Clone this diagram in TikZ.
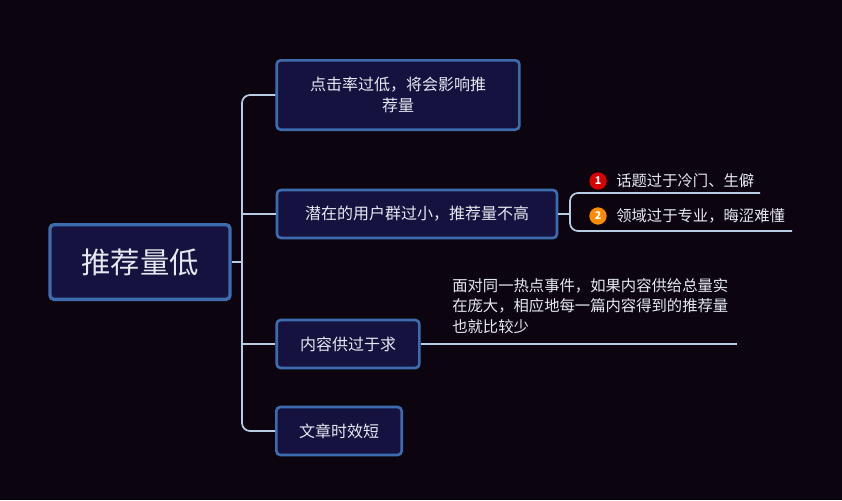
\documentclass[tikz,border=0pt]{standalone}
\usepackage{fontspec}
\setmainfont{Noto Sans CJK SC}
\begin{document}
\begin{tikzpicture}[x=0.75pt,y=-0.75pt,
  box/.style={draw=bordc,line width=2pt,fill=boxc,rounded corners=3pt,text=txtc,font=\fontsize{12}{16}\selectfont,inner sep=0pt},
  ln/.style={draw=linec,line width=1.3pt,rounded corners=6pt},
  txt/.style={text=txtc,font=\fontsize{11.5}{15}\selectfont,anchor=west,inner sep=0pt}]
\definecolor{bgc}{HTML}{0C0510}
\definecolor{boxc}{HTML}{15123F}
\definecolor{bordc}{HTML}{3C6CAE}
\definecolor{txtc}{HTML}{E6E8F0}
\definecolor{linec}{HTML}{B8CCE4}
\fill[bgc] (0,0) rectangle (842,500);
\useasboundingbox (0,0) rectangle (842,500);
\node[box,minimum width=135pt,minimum height=56pt,font=\fontsize{22}{26}\selectfont,line width=2.5pt] (root) at (140,262) {推荐量低};
\node[box,minimum width=182pt,minimum height=52pt,align=center] (c1) at (398,95) {点击率过低，将会影响推\\荐量};
\node[box,minimum width=210pt,minimum height=36pt] (c2) at (417,214) {潜在的用户群过小，推荐量不高};
\node[box,minimum width=107pt,minimum height=36pt] (c3) at (348,344) {内容供过于求};
\node[box,minimum width=94pt,minimum height=36pt] (c4) at (339,431) {文章时效短};
\coordinate (t) at (242,262);
\draw[ln] (root.east) -- (t);
\draw[ln] (c1.west) -- (242,95) -- (242,431) -- (c4.west);
\draw[ln] (242,214) -- (c2.west);
\draw[ln] (242,344) -- (c3.west);
\coordinate (s1) at (760,193);
\coordinate (s2) at (792,231);
\draw[ln] (c2.east) -- (570,214);
\draw[ln] (s1) -- (570,193) -- (570,231) -- (s2);
\node[circle,fill=red!85!black,inner sep=0pt,minimum size=13pt,text=white,font=\fontsize{8}{8}\selectfont\bfseries] (n1) at (598,181) {1};
\node[circle,fill=orange!90!yellow,inner sep=0pt,minimum size=13pt,text=white,font=\fontsize{8}{8}\selectfont\bfseries] (n2) at (598,216) {2};
\node[txt] (l1) at (616,181) {话题过于冷门、生僻};
\node[txt] (l2) at (616,216) {领域过于专业，晦涩难懂};
\coordinate (e3) at (737,344);
\draw[ln] (c3.east) -- (e3);
\node[txt,anchor=north west,align=left,font=\fontsize{11.5}{15.5}\selectfont] (d3) at (452,278) {面对同一热点事件，如果内容供给总量实\\在庞大，相应地每一篇内容得到的推荐量\\也就比较少};
\end{tikzpicture}
\end{document}
